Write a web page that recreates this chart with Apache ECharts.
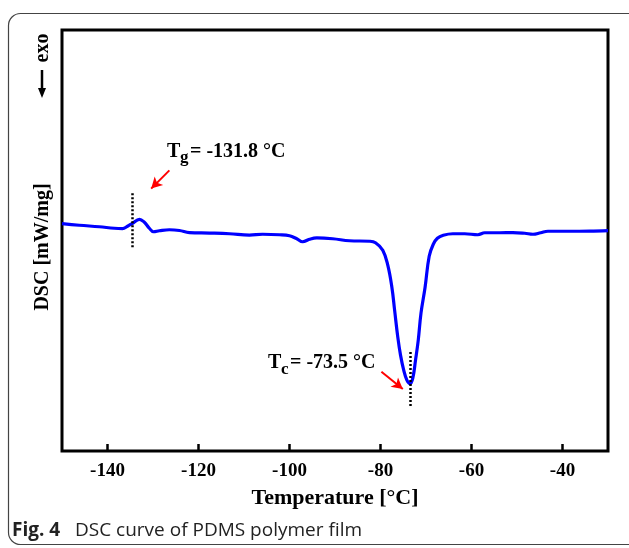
<!DOCTYPE html>
<html>
<head>
<meta charset="utf-8">
<script src="https://cdn.jsdelivr.net/npm/echarts@6/dist/echarts.min.js"></script>
<style>
    html, body { margin: 0; padding: 0; background: #fff; }
    #main { width: 629px; height: 548px; }
</style>
</head>
<body>
<div id="main"></div>
<script>
// 温度 (°C)
const temps = [-150, -146.2, -141.8, -138.5, -136.7, -135.6, -134.5, -133.0, -131.9, -130.8,
    -129.9, -128.6, -126.4, -124.2, -122.0, -117.6, -113.2, -108.8, -105.9, -102.2,
    -100.0, -98.4, -97.1, -95.6, -94.0, -90.5, -86.8, -82.4, -81.1, -79.5,
    -78.4, -77.5, -76.9, -76.2, -75.6, -74.9, -74.2, -73.5, -72.9, -72.3,
    -71.7, -71.1, -70.2, -69.3, -68.4, -67.5, -66.2, -64.1, -61.5, -58.6,
    -57.1, -53.8, -50.9, -48.3, -46.5, -44.8, -43.2, -38.4, -34.0, -30];
// DSC 信号 (任意单位, 无刻度)
const dsc = [22.77, 22.6, 22.45, 22.3, 22.27, 22.5, 22.8, 23.2, 22.9, 22.3,
    21.95, 22.05, 22.15, 22.08, 21.87, 21.82, 21.75, 21.62, 21.7, 21.65,
    21.55, 21.25, 20.95, 21.2, 21.33, 21.25, 21.05, 21.0, 20.85, 20.1,
    18.6, 16.4, 14.1, 11.4, 9.6, 8.1, 7.1, 6.75, 7.3, 9.1,
    11.1, 13.8, 16.4, 19.5, 20.7, 21.3, 21.6, 21.75, 21.75, 21.65,
    21.85, 21.85, 21.87, 21.8, 21.7, 21.85, 22.0, 22.0, 22.02, 22.07];
const xTicks = [-140, -120, -100, -80, -60, -40];

// 标注: 虚线位置 [x, y1, y2]
const tgLine = [-134.6, 25.8, 20.3];
const tcLine = [-73.5, 9.9, 4.4];
// 红色箭头 [x1, y1, x2, y2]
const tgArrow = [-126.4, 28.1, -130.4, 26.27];
const tcArrow = [-79.8, 7.93, -75.1, 6.2];

const serif = 'Liberation Serif';

const chart = echarts.init(document.getElementById('main'));

const option = {
    animation: false,
    backgroundColor: '#fff',
    grid: {
        left: 62,
        right: 21,
        top: 30,
        bottom: 97,
        show: true,
        borderColor: '#000',
        borderWidth: 3,
    },
    xAxis: {
        type: 'value',
        min: -150,
        max: -30,
        name: 'Temperature [°C]',
        nameLocation: 'middle',
        nameGap: 36,
        nameTextStyle: { fontFamily: serif, fontWeight: 'bold', fontSize: 22, color: '#000' },
        axisLine: { show: false },
        splitLine: { show: false },
        axisTick: {
            inside: true,
            length: 7,
            customValues: xTicks,
            lineStyle: { color: '#000', width: 2.5 }
        },
        axisLabel: {
            margin: 11,
            customValues: xTicks,
            fontFamily: serif,
            fontWeight: 'bold',
            fontSize: 19,
            color: '#000'
        }
    },
    yAxis: {
        type: 'value',
        min: 0,
        max: 42.15,
        axisLine: { show: false },
        axisTick: { show: false },
        axisLabel: { show: false },
        splitLine: { show: false }
    },
    series: [
        {
            type: 'line',
            data: temps.map((t, i) => [t, dsc[i]]),
            smooth: 0.4,
            symbol: 'none',
            lineStyle: { color: '#0000ff', width: 3.2 },
            markLine: {
                silent: true,
                symbol: 'none',
                label: { show: false },
                lineStyle: { color: '#000', width: 2.5, type: [2, 2] },
                data: [
                    [{ coord: [tgLine[0], tgLine[1]] }, { coord: [tgLine[0], tgLine[2]] }],
                    [{ coord: [tcLine[0], tcLine[1]] }, { coord: [tcLine[0], tcLine[2]] }]
                ]
            }
        },
        {
            type: 'line',
            data: [],
            markLine: {
                silent: true,
                symbol: ['none', 'arrow'],
                symbolSize: [9, 11],
                label: { show: false },
                lineStyle: { color: '#ff0000', width: 2, type: 'solid' },
                data: [
                    [{ coord: [tgArrow[0], tgArrow[1]] }, { coord: [tgArrow[2], tgArrow[3]] }],
                    [{ coord: [tcArrow[0], tcArrow[1]] }, { coord: [tcArrow[2], tcArrow[3]] }]
                ]
            }
        }
    ]
};

chart.setOption(option);

// 文字标注 / 外框 / 坐标轴标题
const boldText = (x, y, text, size, extra) => Object.assign({
    type: 'text',
    x: x,
    y: y,
    silent: true,
    style: {
        text: text,
        fontFamily: serif,
        fontWeight: 'bold',
        fontSize: size,
        fill: '#000',
        textVerticalAlign: 'bottom'
    }
}, extra || {});

chart.setOption({
    graphic: [
        {
            type: 'rect',
            silent: true,
            shape: { x: 8.5, y: 13.5, width: 640, height: 531, r: 12 },
            style: { fill: 'none', stroke: '#444', lineWidth: 1.2 }
        },
        // Tg 标注
        boldText(167, 162, 'T', 20),
        boldText(180, 166, 'g', 17),
        boldText(190, 162, '= -131.8 °C', 20),
        // Tc 标注
        boldText(268, 373, 'T', 20),
        boldText(281, 378, 'c', 17),
        boldText(290, 373, '= -73.5 °C', 20),
        // y 轴标题
        {
            type: 'text',
            x: 43,
            y: 247,
            rotation: Math.PI / 2,
            silent: true,
            style: {
                text: 'DSC [mW/mg]',
                fontFamily: serif,
                fontWeight: 'bold',
                fontSize: 20,
                fill: '#000',
                align: 'center',
                verticalAlign: 'middle'
            }
        },
        {
            type: 'text',
            x: 43,
            y: 48,
            rotation: Math.PI / 2,
            silent: true,
            style: {
                text: 'exo',
                fontFamily: serif,
                fontWeight: 'bold',
                fontSize: 20,
                fill: '#000',
                align: 'center',
                verticalAlign: 'middle'
            }
        },
        {
            type: 'line',
            silent: true,
            shape: { x1: 42, y1: 70, x2: 42, y2: 90 },
            style: { stroke: '#000', lineWidth: 2.5 }
        },
        {
            type: 'polygon',
            silent: true,
            shape: { points: [[38, 88], [46, 88], [42, 98]] },
            style: { fill: '#000' }
        },
        // 图注
        {
            type: 'text',
            x: 12,
            y: 531,
            silent: true,
            style: {
                text: '{b|Fig. 4}   DSC curve of PDMS polymer film',
                fontFamily: 'Open Sans',
                fontSize: 19,
                fill: '#222',
                verticalAlign: 'middle',
                rich: {
                    b: { fontFamily: 'Open Sans', fontWeight: 'bold', fontSize: 19, fill: '#222' }
                }
            }
        }
    ]
});
</script>
</body>
</html>
